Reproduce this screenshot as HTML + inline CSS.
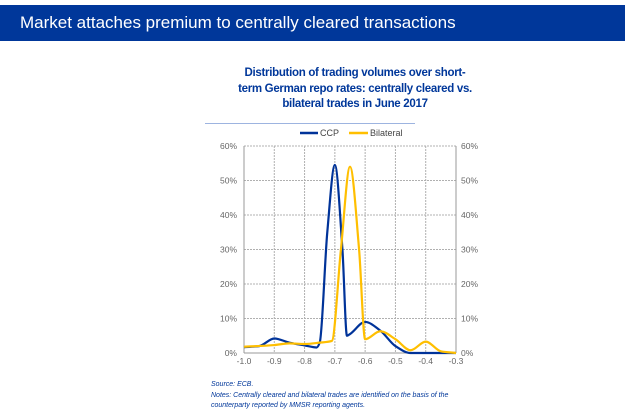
<!DOCTYPE html>
<html><head><meta charset="utf-8"><style>
body{margin:0;width:625px;height:416px;background:#fff;font-family:"Liberation Sans",sans-serif;position:relative;overflow:hidden}
#hdr{position:absolute;left:0;top:5px;width:625px;height:36px;background:#00379a;color:#fff;font-size:17px;line-height:36px;padding-left:20px;box-sizing:border-box}
#ttl{position:absolute;left:195px;top:66px;width:320px;text-align:center;color:#00379a;font-weight:bold;font-size:11.5px;line-height:15.5px;letter-spacing:-0.3px}
#sep{position:absolute;left:205px;top:123px;width:210px;height:1px;background:#9db4e0}
#foot{position:absolute;left:211px;top:380px;color:#00379a;font-style:italic;font-size:7px;line-height:10.5px}
</style></head><body>
<div id="hdr">Market attaches premium to centrally cleared transactions</div>
<div id="ttl">Distribution of trading volumes over short-<br>term German repo rates: centrally cleared vs.<br>bilateral trades in June 2017</div>
<div id="sep"></div>
<svg id="ch" width="625" height="416" style="position:absolute;left:0;top:0"></svg>
<div id="foot">Source: ECB.<br>Notes: Centrally cleared and bilateral trades are identified on the basis of the<br>counterparty reported by MMSR reporting agents.</div>
<script>
const xTicks=[-1.0,-0.9,-0.8,-0.7,-0.6,-0.5,-0.4,-0.3];
const yTicks=[0,10,20,30,40,50,60];
const ccpX=[-1.0,-0.95,-0.9,-0.85,-0.8,-0.76,-0.75,-0.725,-0.7,-0.675,-0.66,-0.65,-0.6,-0.55,-0.5,-0.45,-0.4,-0.35,-0.3];
const ccpY=[1.7,2,4.2,3,2.2,1.6,3,35,54.5,30,5,5.5,9,6.5,2,0,0,0,0];
const bilX=[-1.0,-0.9,-0.85,-0.8,-0.75,-0.71,-0.68,-0.65,-0.62,-0.6,-0.55,-0.5,-0.45,-0.4,-0.35,-0.3];
const bilY=[1.8,2.3,2.8,2.6,3,3.5,30,54,30,4,6.3,4,0.8,3.3,0.5,0];
const NS="http://www.w3.org/2000/svg";
const svg=document.getElementById('ch');
const L=244,R=456,T=146,B=353;
const xs=v=>L+(v+1)/0.7*(R-L);
const ys=v=>B-v/60*(B-T);
function mk(t,a){const e=document.createElementNS(NS,t);for(const k in a)e.setAttribute(k,a[k]);svg.appendChild(e);return e;}
yTicks.forEach(t=>{
 if(t>0){const g=mk('line',{x1:L,x2:R,y1:ys(t),y2:ys(t),stroke:'#b0b0b0','stroke-dasharray':'2,1','stroke-width':1});
 }
 const a=mk('text',{x:L-7,y:ys(t)+3,'text-anchor':'end','font-size':8.5,fill:'#666','font-family':'Liberation Sans'});a.textContent=t+'%';
 
 const b=mk('text',{x:R+5,y:ys(t)+3,'text-anchor':'start','font-size':8.5,fill:'#666','font-family':'Liberation Sans'});b.textContent=t+'%';
 
});
xTicks.forEach(t=>{
 if(t>-1&&t<-0.3){const g=mk('line',{x1:xs(t),x2:xs(t),y1:T,y2:B,stroke:'#b0b0b0','stroke-dasharray':'2,1','stroke-width':1});
 }
 const a=mk('text',{x:xs(t),y:B+11,'text-anchor':'middle','font-size':8.5,fill:'#666','font-family':'Liberation Sans'});a.textContent=t.toFixed(1);
 
});
[[L,T,L,B],[R,T,R,B],[L,B,R,B]].forEach(p=>{const e=mk('line',{x1:p[0],y1:p[1],x2:p[2],y2:p[3],stroke:'#999','stroke-width':1});
 });
function path(X,Y){
 const px=X.map(xs),py=Y.map(ys),n=px.length;
 const d=[],m=new Array(n).fill(0);
 for(let i=0;i<n-1;i++)d.push((py[i+1]-py[i])/(px[i+1]-px[i]));
 m[0]=d[0];m[n-1]=d[n-2];
 for(let i=1;i<n-1;i++){if(d[i-1]*d[i]<=0)m[i]=0;else{const w1=2*(px[i+1]-px[i])+(px[i]-px[i-1]),w2=(px[i+1]-px[i])+2*(px[i]-px[i-1]);m[i]=(w1+w2)/(w1/d[i-1]+w2/d[i]);}}
 let s='M'+px[0]+','+py[0];
 for(let i=0;i<n-1;i++){const h=(px[i+1]-px[i])/3;
 s+=` C${px[i]+h},${py[i]+m[i]*h} ${px[i+1]-h},${py[i+1]-m[i+1]*h} ${px[i+1]},${py[i+1]}`;}
 return s;}
const s1=mk('path',{d:path(ccpX,ccpY),fill:'none',stroke:'#003399','stroke-width':2.2});

const s2=mk('path',{d:path(bilX,bilY),fill:'none',stroke:'#ffbf00','stroke-width':2.2});

const l1=mk('line',{x1:300,x2:318,y1:133,y2:133,stroke:'#003399','stroke-width':2.5});

const t1=mk('text',{x:320,y:136,'font-size':9,fill:'#444','font-family':'Liberation Sans'});t1.textContent='CCP';

const l2=mk('line',{x1:349,x2:368,y1:133,y2:133,stroke:'#ffbf00','stroke-width':2.5});

const t2=mk('text',{x:370,y:136,'font-size':9,fill:'#444','font-family':'Liberation Sans'});t2.textContent='Bilateral';

</script>
</body></html>
